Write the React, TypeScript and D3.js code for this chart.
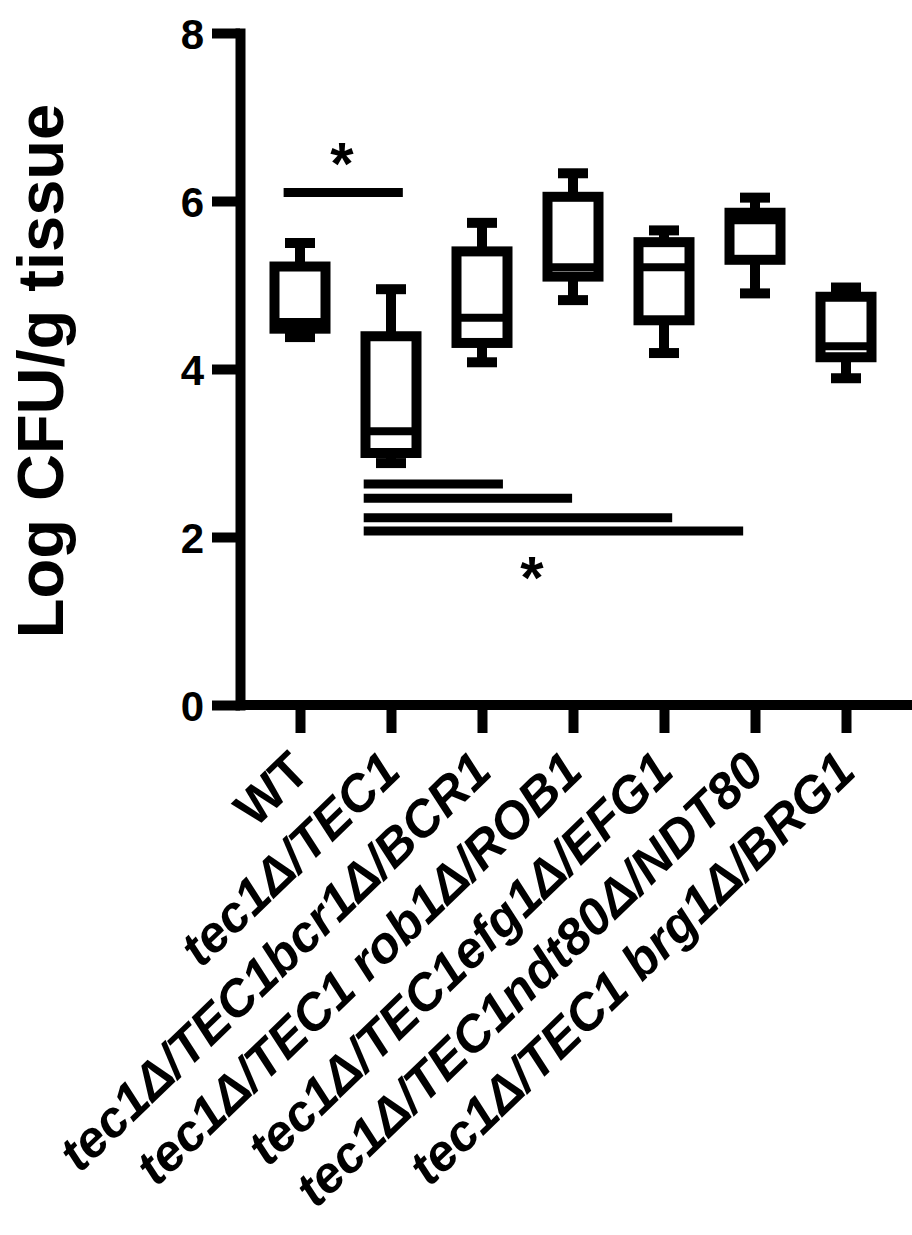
import React, { useEffect, useRef } from 'react';
import * as d3 from 'd3';

// strains on the x axis
const categories = [
  'WT',
  'tec1Δ/TEC1',
  'tec1Δ/TEC1bcr1Δ/BCR1',
  'tec1Δ/TEC1 rob1Δ/ROB1',
  'tec1Δ/TEC1efg1Δ/EFG1',
  'tec1Δ/TEC1ndt80Δ/NDT80',
  'tec1Δ/TEC1 brg1Δ/BRG1',
];

// box plot values (Log CFU/g tissue)
const mins = [4.38, 2.88, 4.08, 4.82, 4.19, 4.9, 3.89];
const q1s = [4.48, 3.0, 4.31, 5.1, 4.58, 5.3, 4.14];
const medians = [4.56, 3.26, 4.61, 5.21, 5.21, 5.77, 4.27];
const q3s = [5.22, 4.39, 5.4, 6.05, 5.51, 5.86, 4.86];
const maxs = [5.5, 4.95, 5.74, 6.33, 5.65, 6.04, 4.97];

const yTicks = [0, 2, 4, 6, 8];

// significance bars: [from index, to index, level]
const sigBars = [
  [-0.18, 1.13, 6.1],
  [0.7, 2.23, 2.63],
  [0.7, 2.99, 2.46],
  [0.7, 4.09, 2.23],
  [0.7, 4.87, 2.07],
];
// asterisks: [index, level]
const stars = [
  [0.46, 6.6],
  [2.55, 1.67],
];

function App() {
  const svgRef = useRef(null);

  useEffect(() => {
    const width = 912;
    const height = 1235;
    const axisX = 240;
    const font = 'Liberation Sans, Arial, Helvetica, sans-serif';

    const svg = d3.select(svgRef.current);
    svg.selectAll('*').remove();
    svg.attr('width', width).attr('height', height);

    const y = d3.scaleLinear().domain([0, 8]).range([705, 33]);
    const x = d3.scaleLinear().domain([0, 6]).range([300, 846]);

    // y axis
    const yAxis = svg
      .append('g')
      .attr('transform', `translate(${axisX},0)`)
      .call(d3.axisLeft(y).tickValues(yTicks).tickSize(28).tickSizeOuter(0).tickPadding(8).tickFormat(d3.format('d')));
    yAxis.select('.domain').attr('stroke-width', 10).attr('stroke-linecap', 'square');
    yAxis.selectAll('.tick line').attr('stroke-width', 10);
    yAxis
      .selectAll('.tick text')
      .attr('font-size', 42)
      .attr('font-weight', 'bold')
      .attr('font-family', font)
      .attr('fill', '#000')
      .attr('dy', '0.38em');

    // x axis
    const xAxis = svg
      .append('g')
      .attr('transform', `translate(0,${y(0)})`)
      .call(d3.axisBottom(x).tickValues(d3.range(categories.length)).tickSize(28).tickSizeOuter(0).tickFormat(() => ''));
    xAxis.select('.domain').remove();
    xAxis.selectAll('.tick line').attr('stroke-width', 10);
    svg
      .append('line')
      .attr('x1', axisX)
      .attr('x2', width)
      .attr('y1', y(0))
      .attr('y2', y(0))
      .attr('stroke', '#000')
      .attr('stroke-width', 10);

    // rotated category labels
    svg
      .append('g')
      .selectAll('text')
      .data(categories)
      .join('text')
      .attr('transform', (d, i) => `translate(${x(i) + 12},774) rotate(-44)`)
      .attr('text-anchor', 'end')
      .attr('font-family', font)
      .attr('font-size', 51)
      .attr('font-weight', 'bold')
      .attr('font-style', (d, i) => (i === 0 ? 'normal' : 'italic'))
      .text((d) => d);

    // y axis title
    svg
      .append('text')
      .attr('transform', `translate(63,${(y(0) + y(8)) / 2 + 2}) rotate(-90)`)
      .attr('text-anchor', 'middle')
      .attr('font-family', font)
      .attr('font-size', 65)
      .attr('font-weight', 'bold')
      .text('Log CFU/g tissue');

    // boxes
    const halfBox = 25.5;
    const halfCap = 15;
    const boxes = svg.append('g').attr('stroke', '#000').attr('stroke-width', 10).attr('fill', 'none');
    categories.forEach((c, i) => {
      const cx = x(i);
      boxes.append('line').attr('x1', cx).attr('x2', cx).attr('y1', y(maxs[i])).attr('y2', y(q3s[i]));
      boxes.append('line').attr('x1', cx).attr('x2', cx).attr('y1', y(q1s[i])).attr('y2', y(mins[i]));
      boxes.append('line').attr('x1', cx - halfCap).attr('x2', cx + halfCap).attr('y1', y(maxs[i])).attr('y2', y(maxs[i]));
      boxes.append('line').attr('x1', cx - halfCap).attr('x2', cx + halfCap).attr('y1', y(mins[i])).attr('y2', y(mins[i]));
      boxes
        .append('rect')
        .attr('x', cx - halfBox)
        .attr('width', halfBox * 2)
        .attr('y', y(q3s[i]))
        .attr('height', y(q1s[i]) - y(q3s[i]))
        .attr('fill', '#fff');
      boxes
        .append('line')
        .attr('x1', cx - halfBox)
        .attr('x2', cx + halfBox)
        .attr('y1', y(medians[i]))
        .attr('y2', y(medians[i]))
        .attr('stroke-width', 8);
    });

    // significance bars
    svg
      .append('g')
      .selectAll('line')
      .data(sigBars)
      .join('line')
      .attr('x1', (d) => x(d[0]))
      .attr('x2', (d) => x(d[1]))
      .attr('y1', (d) => y(d[2]))
      .attr('y2', (d) => y(d[2]))
      .attr('stroke', '#000')
      .attr('stroke-width', 9);

    svg
      .append('g')
      .selectAll('text')
      .data(stars)
      .join('text')
      .attr('x', (d) => x(d[0]))
      .attr('y', (d) => y(d[1]) + 33)
      .attr('text-anchor', 'middle')
      .attr('font-family', font)
      .attr('font-size', 60)
      .attr('font-weight', 'bold')
      .text('*');
  }, []);

  return <svg ref={svgRef} style={{ position: 'absolute', left: 0, top: 0, background: '#fff' }} />;
}

export default App;
